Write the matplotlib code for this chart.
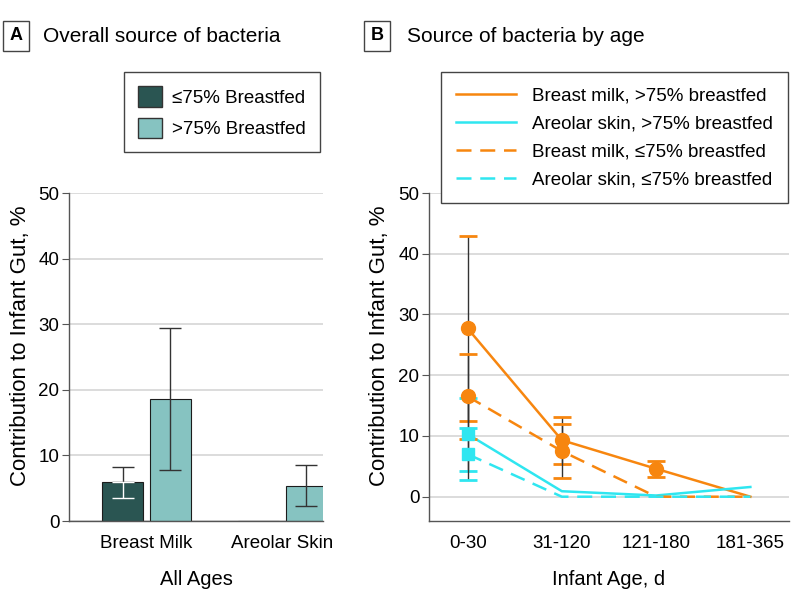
import numpy as np
import matplotlib.pyplot as plt
from matplotlib.patches import Patch
from matplotlib.lines import Line2D

plt.rcParams['font.family'] = ['Liberation Sans', 'DejaVu Sans']

# Panel A: overall source of bacteria
SOURCES = ["Breast Milk", "Areolar Skin"]
LOW_BF = [5.9, 0.0]          # <=75% breastfed
LOW_BF_ERR = [2.4, np.nan]
HIGH_BF = [18.6, 5.4]        # >75% breastfed
HIGH_BF_ERR = [10.8, 3.1]

# Panel B: source of bacteria by age
AGES = ["0-30", "31-120", "121-180", "181-365"]
BM_HIGH = [27.7, 9.3, 4.6, 0.0]
BM_HIGH_ERR = [15.2, 3.9, 1.3, np.nan]
AS_HIGH = [10.3, 0.9, 0.2, 1.6]
AS_HIGH_ERR = [6.0, np.nan, np.nan, np.nan]
BM_LOW = [16.5, 7.5, 0.0, 0.0]
BM_LOW_ERR = [7.0, 4.5, np.nan, np.nan]
AS_LOW = [7.0, 0.0, 0.0, 0.0]
AS_LOW_ERR = [4.3, np.nan, np.nan, np.nan]

DARK = "#2a5552"
LIGHT = "#86c3c1"
ORANGE = "#f7860f"
CYAN = "#2fe6f0"
GRID = "#d9d9d9"
SPINE = "#555555"
FS = 13.5
DASH = [6, 3.5]

fig = plt.figure(figsize=(7.98, 6.09), dpi=100)
axA = fig.add_axes([69 / 798, 1 - 521 / 609, 254 / 798, 328 / 609])
axB = fig.add_axes([429 / 798, 1 - 521 / 609, 360 / 798, 328 / 609])


def style_axis(ax):
    for s in ("top", "right"):
        ax.spines[s].set_visible(False)
    for s in ("left", "bottom"):
        ax.spines[s].set_color(SPINE)
        ax.spines[s].set_linewidth(1.0)
    ax.set_yticks([0, 10, 20, 30, 40, 50])
    ax.tick_params(axis="y", length=5, width=0.8, color=SPINE, labelsize=FS, pad=2)
    ax.tick_params(axis="x", length=0, labelsize=FS, pad=10)
    ax.grid(True, axis="y", color=GRID, linewidth=1.3)
    ax.set_axisbelow(True)
    ax.set_ylabel("Contribution to Infant Gut, %", fontsize=16)


# ---- panel A ----
x = np.arange(len(SOURCES))
off, w = 0.175, 0.30
axA.bar(x - off, LOW_BF, w, color=DARK, edgecolor="#1c1c1c", linewidth=0.8, zorder=2)
axA.bar(x + off, HIGH_BF, w, color=LIGHT, edgecolor="#1c1c1c", linewidth=0.8, zorder=2)
# dark bar: whisker above the bar is black, the part inside the bar white
lo = np.array(LOW_BF)
le = np.array(LOW_BF_ERR)
m = ~np.isnan(le)
axA.errorbar(x[m] - off, lo[m], yerr=[np.zeros(m.sum()), le[m]], fmt="none",
             ecolor="#333333", elinewidth=1.0, capsize=8, capthick=1.0, zorder=3)
axA.errorbar(x[m] - off, lo[m], yerr=[le[m], np.zeros(m.sum())], fmt="none",
             ecolor="white", elinewidth=1.0, capsize=8, capthick=1.0, zorder=3)
axA.errorbar(x + off, HIGH_BF, yerr=HIGH_BF_ERR, fmt="none",
             ecolor="#333333", elinewidth=1.0, capsize=8, capthick=1.0, zorder=3)
style_axis(axA)
axA.set_ylim(0, 50)
axA.set_xlim(-0.57, 1.30)
axA.set_xticks(x)
axA.set_xticklabels(SOURCES)
axA.set_xlabel("All Ages", fontsize=FS + 1, labelpad=13)
axA.yaxis.set_label_coords(-0.15, 0.534)
axA.legend(handles=[Patch(facecolor=DARK, edgecolor="#333333", label="≤75% Breastfed"),
                    Patch(facecolor=LIGHT, edgecolor="#333333", label=">75% Breastfed")],
           loc="upper left", bbox_to_anchor=(124 / 798, 1 - 72 / 609),
           bbox_transform=fig.transFigure, borderaxespad=0, fontsize=FS,
           frameon=True, fancybox=False, edgecolor="#444444", framealpha=1,
           handlelength=1.3, handleheight=1.3, handletextpad=0.5,
           borderpad=0.75, labelspacing=0.6)

# ---- panel B ----
xb = np.arange(len(AGES))
series = [
    (BM_HIGH, BM_HIGH_ERR, ORANGE, "-", "o", "Breast milk, >75% breastfed"),
    (AS_HIGH, AS_HIGH_ERR, CYAN, "-", "s", "Areolar skin, >75% breastfed"),
    (BM_LOW, BM_LOW_ERR, ORANGE, "--", "o", "Breast milk, ≤75% breastfed"),
    (AS_LOW, AS_LOW_ERR, CYAN, "--", "s", "Areolar skin, ≤75% breastfed"),
]
handles = []
for vals, errs, col, ls, mk, lab in series:
    vals = np.array(vals)
    errs = np.array(errs)
    ln, = axB.plot(xb, vals, color=col, linestyle=ls, linewidth=1.8, zorder=3)
    h = Line2D([], [], color=col, linestyle=ls, linewidth=1.8, label=lab)
    if ls == "--":
        ln.set_dashes(DASH)
        h.set_dashes(DASH)
    handles.append(h)
    m = ~np.isnan(errs)
    eb = axB.errorbar(xb[m], vals[m], yerr=errs[m], fmt="none", ecolor="#333333",
                      elinewidth=1.0, capsize=6.5, capthick=2.0, zorder=4)
    for cap in eb[1]:
        cap.set_markeredgecolor(col)
    axB.plot(xb[m], vals[m], linestyle="none", marker=mk,
             markersize=10 if mk == "o" else 9, color=col, zorder=5)
style_axis(axB)
axB.set_ylim(-4, 50)
axB.set_xlim(-0.41, 3.41)
axB.set_xticks(xb)
axB.set_xticklabels(AGES)
axB.set_xlabel("Infant Age, d", fontsize=FS + 1, labelpad=13)
axB.yaxis.set_label_coords(-0.108, 0.534)
axB.legend(handles=handles, loc="upper left", bbox_to_anchor=(441 / 798, 1 - 72 / 609),
           bbox_transform=fig.transFigure, borderaxespad=0, fontsize=FS,
           frameon=True, fancybox=False, edgecolor="#444444", framealpha=1,
           handlelength=3.2, handletextpad=0.85, borderpad=0.8, labelspacing=0.58)

# panel titles
box = dict(boxstyle="square,pad=0.35", facecolor="white", edgecolor="#444444", linewidth=1.0)
fig.text(16 / 798, 1 - 36 / 609, "A", fontsize=13, fontweight="bold", ha="center",
         va="center", bbox=box)
fig.text(43 / 798, 1 - 36 / 609, "Overall source of bacteria", fontsize=15,
         ha="left", va="center")
fig.text(377 / 798, 1 - 36 / 609, "B", fontsize=13, fontweight="bold", ha="center",
         va="center", bbox=box)
fig.text(407 / 798, 1 - 36 / 609, "Source of bacteria by age", fontsize=15,
         ha="left", va="center")

fig.savefig("out.png", dpi=100)
